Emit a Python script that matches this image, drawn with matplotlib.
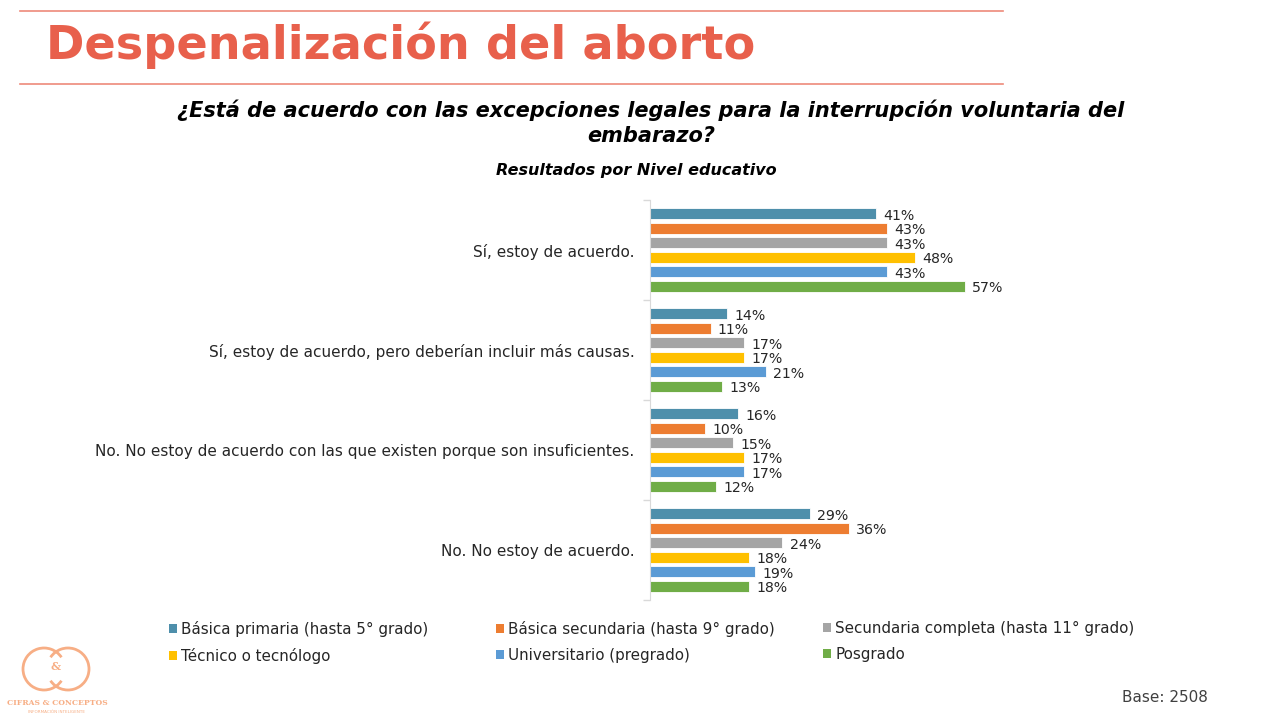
import numpy as np
import matplotlib.pyplot as plt
from matplotlib.patches import Patch, Arc
from matplotlib.lines import Line2D

categories = ["Sí, estoy de acuerdo.",
              "Sí, estoy de acuerdo, pero deberían incluir más causas.",
              "No. No estoy de acuerdo con las que existen porque son insuficientes.",
              "No. No estoy de acuerdo."]
series_names = ["Básica primaria (hasta 5° grado)",
                "Básica secundaria (hasta 9° grado)",
                "Secundaria completa (hasta 11° grado)",
                "Técnico o tecnólogo",
                "Universitario (pregrado)",
                "Posgrado"]
basica_primaria = [41, 14, 16, 29]
basica_secundaria = [43, 11, 10, 36]
secundaria_completa = [43, 17, 15, 24]
tecnico = [48, 17, 17, 18]
universitario = [43, 21, 17, 19]
posgrado = [57, 13, 12, 18]
values = [basica_primaria, basica_secundaria, secundaria_completa,
          tecnico, universitario, posgrado]
colors = ["#4E8FAB", "#ED7D31", "#A5A5A5", "#FFC000", "#5B9BD5", "#70AD47"]

plt.rcParams['font.family'] = ['DejaVu Sans']
red = "#E8604C"
txt = "#262626"

fig = plt.figure(figsize=(12.74, 7.17), dpi=100)

# header lines and title
fig.add_artist(Line2D([20/1274, 1003/1274], [1-11/717, 1-11/717], color="#EE8A7A", lw=1.2))
fig.add_artist(Line2D([20/1274, 1003/1274], [1-84/717, 1-84/717], color="#EE8A7A", lw=1.2))
fig.text(46/1274, 1-45/717, "Despenalización del aborto", color=red, fontsize=33.3,
         fontweight="bold", va="center", ha="left")
sub = dict(family="DejaVu Sans", fontweight="bold", style="italic",
           ha="center", va="center", color="black")
fig.text(651/1274, 1-110/717,
         "¿Está de acuerdo con las excepciones legales para la interrupción voluntaria del",
         fontsize=15, **sub)
fig.text(651/1274, 1-136/717, "embarazo?", fontsize=15, **sub)
fig.text(636/1274, 1-170/717, "Resultados por Nivel educativo", fontsize=11.5, **sub)

ax = fig.add_axes([650/1274, 1-600/717, 0.26, 400/717])
pitch = 0.145
bh = 0.11
y = np.arange(len(categories))
for i, (vals, c) in enumerate(zip(values, colors)):
    yy = y + (i - 2.5) * pitch
    ax.barh(yy, vals, height=bh, color=c, edgecolor="white", linewidth=0.6, label=series_names[i])
    for v, yv in zip(vals, yy):
        ax.text(v + 1.3, yv + 0.02, f"{v}%", va="center", ha="left", fontsize=10.2, color=txt)

ax.set_ylim(3.5, -0.5)
ax.set_xlim(0, 60)
ax.set_yticks(y)
ax.set_yticklabels(categories, fontsize=11, color=txt)
ax.tick_params(axis="y", which="major", length=0, pad=11)
ax.set_yticks(np.arange(-0.5, 3.6, 1), minor=True)
ax.tick_params(axis="y", which="minor", length=5, color="#D9D9D9", width=1)
ax.set_xticks([])
for s in ["top", "right", "bottom"]:
    ax.spines[s].set_visible(False)
ax.spines["left"].set_color("#D9D9D9")

# legend: three columns at fixed positions
handles = [Patch(facecolor=c, edgecolor="none") for c in colors]
cols_x = [155, 482, 809]
for k in range(3):
    idx = [k, k + 3]
    fig.legend([handles[j] for j in idx], [series_names[j] for j in idx],
               loc="upper left", bbox_to_anchor=(cols_x[k]/1274, 1-607/717),
               frameon=False, fontsize=10.9, handlelength=0.55, handleheight=0.55,
               handletextpad=0.3, labelspacing=0.75, labelcolor=txt)

# logo
logo = "#F7AE85"
fig.add_artist(Arc((44/1274, 1-669/717), 42/1274, 42/717, theta1=50, theta2=310,
                   color=logo, lw=2, transform=fig.transFigure))
fig.add_artist(Arc((68/1274, 1-669/717), 42/1274, 42/717, theta1=-130, theta2=130,
                   color=logo, lw=2, transform=fig.transFigure))
fig.text(56/1274, 1-667/717, "&", color=logo, fontsize=8, ha="center", va="center",
         family="DejaVu Serif", fontweight="bold")
fig.text(57/1274, 1-703/717, "CIFRAS & CONCEPTOS", color=logo, fontsize=5.5,
         ha="center", va="center", family="DejaVu Serif", fontweight="bold")
fig.text(57/1274, 1-712/717, "INFORMACIÓN INTELIGENTE", color=logo, fontsize=3,
         ha="center", va="center")

fig.text(1208/1274, 1-697/717, "Base: 2508", fontsize=11, color="#404040",
         ha="right", va="center")

fig.savefig("out.png", dpi=100, facecolor="white")
